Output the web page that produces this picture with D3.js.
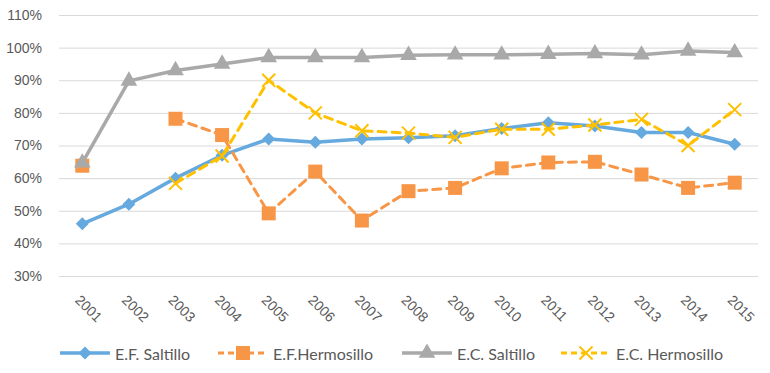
<!DOCTYPE html>
<html>
<head>
<meta charset="utf-8">
<script src="https://cdn.jsdelivr.net/npm/d3@7"></script>
<style>
  html, body { margin: 0; padding: 0; background: #fff; }
  svg { display: block; font-family: Lato, "Noto Sans", sans-serif; }
</style>
</head>
<body>
<div id="chart"></div>
<script>
// Valeurs (en %). null = pas de donnée pour l'année.
const years = ["2001","2002","2003","2004","2005","2006","2007","2008","2009","2010","2011","2012","2013","2014","2015"]
const efSaltillo   = [46, 52, 60, 67, 72, 71, 72, 72.4, 73, 75.2, 77, 76, 74, 74, 70.4]
const efHermosillo = [63.8, null, 78.2, 73.2, 49.2, 62, 47, 56, 57, 63, 64.8, 65, 61.1, 57, 58.6]
const ecSaltillo   = [64.7, 89.8, 93, 95, 97, 97, 97, 97.7, 97.8, 97.8, 98, 98.2, 97.8, 99, 98.5]
const ecHermosillo = [null, null, 58.4, 66.8, 90, 80, 74.5, 73.8, 72.5, 75, 75, 76.3, 78, 70, 81]
const yTicks = [30, 40, 50, 60, 70, 80, 90, 100, 110]

const series = [
  { name: "E.F. Saltillo",    values: efSaltillo,   color: "#65A9DE", dash: null,  width: 3.5, marker: "diamond" },
  { name: "E.F.Hermosillo",   values: efHermosillo, color: "#F79646", dash: "8,6", width: 3,   marker: "square" },
  { name: "E.C. Saltillo",    values: ecSaltillo,   color: "#A9A9A9", dash: null,  width: 3.5, marker: "triangle" },
  { name: "E.C. Hermosillo",  values: ecHermosillo, color: "#FFC000", dash: "8,6", width: 3,   marker: "cross" },
]

const W = 770, H = 373
const plot = { left: 59, right: 758, top: 15, bottom: 276 }

const svg = d3.select("#chart").append("svg")
  .attr("width", W).attr("height", H)

const x = d3.scaleBand().domain(years).range([plot.left, plot.right])
const y = d3.scaleLinear().domain([30, 110]).range([plot.bottom, plot.top])
const cx = d => x(d) + x.bandwidth() / 2

// --- Grille horizontale + labels Y ---
svg.append("g")
  .attr("transform", `translate(${plot.left},0)`)
  .call(d3.axisLeft(y).tickValues(yTicks).tickSize(-(plot.right - plot.left)).tickFormat(d => d + "%"))
  .call(g => g.select(".domain").remove())
  .call(g => g.selectAll(".tick line").attr("stroke", "#D9D9D9").attr("stroke-width", 1))
  .call(g => g.selectAll(".tick text")
    .attr("x", -17).attr("fill", "#595959").attr("font-size", 14))

// --- Labels X, tournés à 45° ---
svg.append("g")
  .attr("transform", `translate(0,${plot.bottom})`)
  .call(d3.axisBottom(x).tickSize(0))
  .call(g => g.select(".domain").remove())
  .call(g => g.selectAll(".tick text")
    .attr("fill", "#595959").attr("font-size", 14)
    .attr("text-anchor", "start")
    .attr("dy", 0).attr("y", 0)
    .attr("transform", "translate(-8,25) rotate(45)"))

// --- Marqueurs ---
const symbolFor = {
  square: d3.symbol().type(d3.symbolSquare).size(196),
  triangle: d3.symbol().type(d3.symbolTriangle).size(120),
}
function drawMarker(sel, s, px, py) {
  if (s.marker === "cross") {
    const r = 6.5
    sel.append("path")
      .attr("d", `M${px - r},${py - r}L${px + r},${py + r}M${px - r},${py + r}L${px + r},${py - r}`)
      .attr("stroke", s.color).attr("stroke-width", 2).attr("fill", "none")
  } else if (s.marker === "diamond") {
    const r = 6.5
    sel.append("path")
      .attr("d", `M${px},${py - r}L${px + r},${py}L${px},${py + r}L${px - r},${py}Z`)
      .attr("fill", s.color)
  } else {
    sel.append("path")
      .attr("d", symbolFor[s.marker]())
      .attr("transform", `translate(${px},${py})`)
      .attr("fill", s.color)
  }
}

// --- Séries ---
const line = d3.line()
  .defined(d => d.v != null)
  .x(d => cx(d.year))
  .y(d => y(d.v))

series.forEach(s => {
  const pts = years.map((year, i) => ({ year, v: s.values[i] }))
  const g = svg.append("g")
  g.append("path")
    .datum(pts)
    .attr("d", line)
    .attr("fill", "none")
    .attr("stroke", s.color)
    .attr("stroke-width", s.width)
    .attr("stroke-dasharray", s.dash)
    .attr("stroke-linejoin", "round")
    .attr("stroke-linecap", s.dash ? "round" : "butt")
  pts.filter(d => d.v != null).forEach(d => drawMarker(g, s, cx(d.year), y(d.v)))
})

// --- Légende ---
const legendX = [60, 218, 402, 561]
const legendY = 353
const lg = svg.append("g")
series.forEach((s, i) => {
  const x0 = legendX[i]
  const item = lg.append("g")
  item.append("line")
    .attr("x1", x0).attr("x2", x0 + 50)
    .attr("y1", legendY).attr("y2", legendY)
    .attr("stroke", s.color).attr("stroke-width", s.width)
    .attr("stroke-dasharray", s.dash ? "6,4" : null)
  drawMarker(item, s, x0 + 25, legendY)
  item.append("text")
    .attr("x", x0 + 55).attr("y", legendY)
    .attr("dominant-baseline", "central")
    .attr("fill", "#595959").attr("font-size", 16)
    .text(s.name)
})
</script>
</body>
</html>
